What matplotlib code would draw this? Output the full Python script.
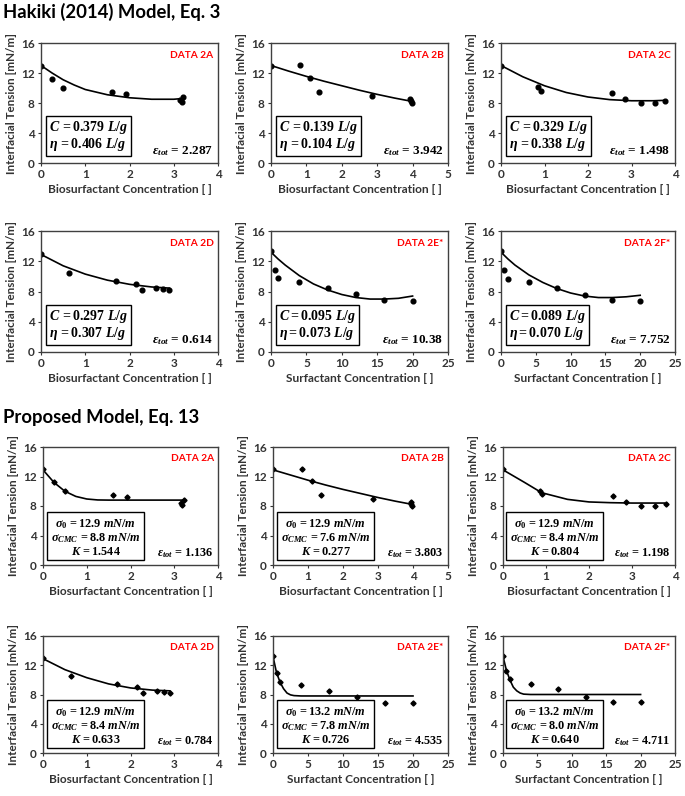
import matplotlib
matplotlib.use("Agg")
import matplotlib.pyplot as plt

plt.rcParams['font.family'] = ['Lato', 'DejaVu Sans']
plt.rcParams['font.weight'] = 'bold'
plt.rcParams['mathtext.fontset'] = 'custom'
plt.rcParams['mathtext.rm'] = 'Liberation Serif:bold'
plt.rcParams['mathtext.it'] = 'Liberation Serif:bold:italic'
plt.rcParams['mathtext.bf'] = 'Liberation Serif:bold'

# measured data (same points used in both model rows)
x_2a = [0, 0.25, 0.5, 1.6, 1.92, 3.15, 3.18, 3.22]
y_2a = [13.0, 11.2, 10.0, 9.45, 9.2, 8.35, 8.1, 8.75]
x_2b = [0, 0.82, 1.1, 1.37, 2.86, 3.93, 3.95, 3.97]
y_2b = [13.0, 13.05, 11.4, 9.5, 9.0, 8.6, 8.25, 8.0]
x_2c = [0, 0.85, 0.91, 2.55, 2.86, 3.21, 3.54, 3.78]
y_2c = [13.0, 10.1, 9.65, 9.3, 8.5, 8.0, 8.0, 8.25]
x_2d = [0, 0.63, 1.69, 2.15, 2.29, 2.6, 2.76, 2.9]
y_2d = [12.95, 10.5, 9.4, 9.0, 8.2, 8.5, 8.3, 8.25]
x_2e = [0, 0.5, 1, 4, 8, 12, 16, 20]
y_2e = [13.3, 10.9, 9.75, 9.25, 8.5, 7.65, 6.9, 6.8]
x_2f = [0, 0.5, 1, 4, 8, 12, 16, 20]
y_2f = [13.3, 10.9, 9.7, 9.2, 8.5, 7.6, 6.9, 6.8]
y_2f_prop = [13.3, 11.2, 10.1, 9.4, 8.8, 7.6, 7.0, 7.0]

# Hakiki model curves
hak_cx_2a = [0, 0.25, 0.5, 0.75, 1.0, 1.5, 2.0, 2.5, 3.0, 3.2]
hak_cy_2a = [13.0, 12.0, 11.1, 10.4, 9.8, 9.1, 8.7, 8.5, 8.5, 8.6]
hak_cx_2b = [0, 0.5, 1, 1.5, 2, 2.5, 3, 3.5, 4]
hak_cy_2b = [13.0, 12.25, 11.55, 10.9, 10.3, 9.7, 9.15, 8.65, 8.2]
hak_cx_2c = [0, 0.5, 1, 1.5, 2, 2.5, 3, 3.5, 3.75]
hak_cy_2c = [13.0, 11.5, 10.3, 9.4, 8.8, 8.45, 8.3, 8.3, 8.35]
hak_cx_2d = [0, 0.5, 1, 1.5, 2, 2.5, 2.9]
hak_cy_2d = [12.9, 11.4, 10.3, 9.5, 8.95, 8.6, 8.45]
hak_cx_2e = [0, 1, 2, 4, 6, 8, 10, 12, 14, 16, 18, 20]
hak_cy_2e = [13.2, 12.3, 11.5, 10.1, 9.0, 8.2, 7.6, 7.2, 7.0, 7.0, 7.1, 7.4]
hak_cx_2f = [0, 1, 2, 4, 6, 8, 10, 12, 14, 16, 18, 20]
hak_cy_2f = [13.2, 12.3, 11.5, 10.2, 9.2, 8.4, 7.8, 7.4, 7.2, 7.2, 7.3, 7.5]

# proposed model curves
prop_cx_2a = [0, 0.25, 0.5, 0.75, 1.0, 1.25, 1.5, 2.0, 3.2]
prop_cy_2a = [12.9, 11.2, 10.0, 9.3, 8.95, 8.82, 8.8, 8.8, 8.8]
prop_cx_2b = [0, 0.5, 1, 1.5, 2, 2.5, 3, 3.5, 4]
prop_cy_2b = [12.9, 12.2, 11.5, 10.85, 10.25, 9.7, 9.15, 8.65, 8.2]
prop_cx_2c = [0, 0.5, 0.9, 1.5, 2, 2.5, 3, 3.75]
prop_cy_2c = [12.9, 11.2, 9.8, 8.9, 8.55, 8.45, 8.4, 8.4]
prop_cx_2d = [0, 0.5, 1, 1.5, 2, 2.5, 2.9]
prop_cy_2d = [12.9, 11.4, 10.3, 9.45, 8.9, 8.6, 8.5]
prop_cx_2e = [0, 0.5, 1, 1.5, 2, 2.5, 3, 4, 20]
prop_cy_2e = [13.2, 11.0, 9.7, 8.8, 8.2, 7.95, 7.85, 7.8, 7.8]
prop_cx_2f = [0, 0.5, 1, 1.5, 2, 2.5, 3, 4, 20]
prop_cy_2f = [13.2, 11.3, 10.0, 9.0, 8.5, 8.2, 8.05, 8.0, 8.0]

labels = ['DATA 2A', 'DATA 2B', 'DATA 2C', 'DATA 2D', 'DATA 2E*', 'DATA 2F*']
xmax = [4, 5, 4, 4, 25, 25]
xstep = [1, 1, 1, 1, 5, 5]
xlabels = ['Biosurfactant Concentration [ ]'] * 4 + ['Surfactant Concentration [ ]'] * 2

hak_box = [r'$C\,=0.379\ L/g$' + '\n' + r'$\eta\,=0.406\ L/g$',
           r'$C\,=0.139\ L/g$' + '\n' + r'$\eta\,=0.104\ L/g$',
           r'$C\,=0.329\ L/g$' + '\n' + r'$\eta\,=0.338\ L/g$',
           r'$C\,=0.297\ L/g$' + '\n' + r'$\eta\,=0.307\ L/g$',
           r'$C{=}0.095\ L/g$' + '\n' + r'$\eta{=}0.073\ L/g$',
           r'$C{=}0.089\ L/g$' + '\n' + r'$\eta{=}0.070\ L/g$']
hak_eps = ['2.287', '3.942', '1.498', '0.614', '10.38', '7.752']
prop_s0 = ['12.9', '12.9', '12.9', '12.9', '13.2', '13.2']
prop_scmc = ['8.8', '7.6', '8.4', '8.4', '7.8', '8.0']
prop_k = ['1.544', '0.277', '0.804', '0.633', '0.726', '0.640']
prop_eps = ['1.136', '3.803', '1.198', '0.784', '4.535', '4.711']

xs = [x_2a, x_2b, x_2c, x_2d, x_2e, x_2f]
ys_hak = [y_2a, y_2b, y_2c, y_2d, y_2e, y_2f]
ys_prop = [y_2a, y_2b, y_2c, y_2d, y_2e, y_2f_prop]
hak_curves = [(hak_cx_2a, hak_cy_2a), (hak_cx_2b, hak_cy_2b), (hak_cx_2c, hak_cy_2c),
              (hak_cx_2d, hak_cy_2d), (hak_cx_2e, hak_cy_2e), (hak_cx_2f, hak_cy_2f)]
prop_curves = [(prop_cx_2a, prop_cy_2a), (prop_cx_2b, prop_cy_2b), (prop_cx_2c, prop_cy_2c),
               (prop_cx_2d, prop_cy_2d), (prop_cx_2e, prop_cy_2e), (prop_cx_2f, prop_cy_2f)]

W, H = 685, 796
fig = plt.figure(figsize=(W / 100, H / 100), dpi=100)

# pixel boxes of the axes (left, right) and (top, bottom)
cols_top = [(41, 218), (271, 448), (501, 675)]
cols_bot = [(43, 218), (273, 448), (503, 675)]
rows = [(43, 163), (231, 352), (447, 565), (636, 753)]

fig.text(3 / W, 1 - 12 / H, 'Hakiki (2014) Model, Eq. 3', fontsize=13.3, fontweight='bold',
         va='center', ha='left')
fig.text(3 / W, 1 - 417 / H, 'Proposed Model, Eq. 13', fontsize=13.3, fontweight='bold',
         va='center', ha='left')

edge = '#404040'


def make_ax(l, r, t, b):
    ax = fig.add_axes([l / W, 1 - b / H, (r - l) / W, (b - t) / H])
    for s in ax.spines.values():
        s.set_color(edge)
        s.set_linewidth(1.0)
    ax.tick_params(labelsize=8.5, colors='#333333', length=2.5, width=0.8, direction='out', pad=2)
    return ax


def style_labels(ax, i):
    ax.set_xlim(0, xmax[i])
    ax.set_ylim(0, 16)
    ax.set_xticks(range(0, xmax[i] + 1, xstep[i]))
    ax.set_yticks([0, 4, 8, 12, 16])
    for lab in ax.get_xticklabels() + ax.get_yticklabels():
        lab.set_fontweight('bold')
    ax.set_xlabel(xlabels[i], fontsize=8.6, fontweight='bold', color='#333333', labelpad=3)
    ax.set_ylabel('Interfacial Tension [mN/m]', fontsize=8.4, fontweight='bold', color='#333333',
                  labelpad=3)
    ax.text(0.975, 0.9, labels[i], transform=ax.transAxes, ha='right', va='center',
            color='red', fontsize=7.3, fontweight='bold')


for i in range(6):
    r, c = divmod(i, 3)
    # Hakiki row
    l, rr = cols_top[c]
    t, b = rows[r]
    ax = make_ax(l, rr, t, b)
    ax.plot(xs[i], ys_hak[i], 'o', color='black', ms=3.4)
    ax.plot(hak_curves[i][0], hak_curves[i][1], color='black', lw=1.2)
    style_labels(ax, i)
    ax.text(0.045, 0.08, hak_box[i], transform=ax.transAxes, ha='left', va='bottom', fontsize=10,
            linespacing=1.05,
            bbox=dict(boxstyle='square,pad=0.2', fc='white', ec='black', lw=1.0))
    ax.text(0.975, 0.04, r'$\varepsilon_{tot}$ = ' + hak_eps[i], transform=ax.transAxes,
            ha='right', va='bottom', fontsize=9.5, family='Liberation Serif')

    # Proposed row
    l, rr = cols_bot[c]
    t, b = rows[r + 2]
    ax = make_ax(l, rr, t, b)
    ax.plot(xs[i], ys_prop[i], 'D', color='black', ms=2.6)
    ax.plot(prop_curves[i][0], prop_curves[i][1], color='black', lw=1.2)
    style_labels(ax, i)
    txt = (r'$\sigma_0\,=' + prop_s0[i] + r'\ mN/m$' + '\n' +
           r'$\sigma_{CMC}\,=' + prop_scmc[i] + r'\ mN/m$' + '\n' +
           r'$K\,=' + prop_k[i] + '$')
    ax.text(0.3, 0.07, txt, transform=ax.transAxes, ha='center', va='bottom', fontsize=8.8,
            multialignment='center', linespacing=1.0,
            bbox=dict(boxstyle='square,pad=0.3', fc='white', ec='black', lw=1.0))
    ax.text(0.975, 0.04, r'$\varepsilon_{tot}$ = ' + prop_eps[i], transform=ax.transAxes,
            ha='right', va='bottom', fontsize=8.8, family='Liberation Serif')

fig.savefig('out.png', dpi=100)
